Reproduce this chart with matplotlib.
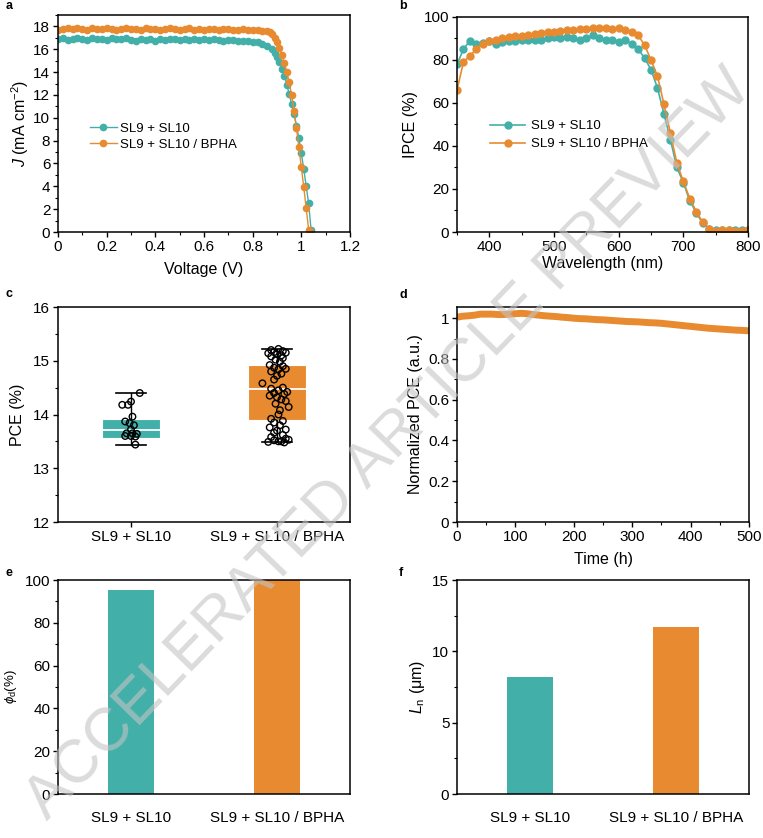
import numpy as np
import matplotlib
matplotlib.use("Agg")
import matplotlib.pyplot as plt
from matplotlib.ticker import MultipleLocator

plt.rcParams['font.family'] = ['Liberation Sans', 'DejaVu Sans']
plt.rcParams['mathtext.fontset'] = 'custom'
plt.rcParams['mathtext.rm'] = 'Liberation Sans'
plt.rcParams['mathtext.it'] = 'Liberation Sans:italic'

teal = '#43AFA9'
orange = '#E88B30'
names = ['SL9 + SL10', 'SL9 + SL10 / BPHA']

# ---- a: J-V
v_teal = [0.00, 0.02, 0.04, 0.06, 0.08, 0.10, 0.12, 0.14, 0.16, 0.18,
          0.20, 0.22, 0.24, 0.26, 0.28, 0.30, 0.32, 0.34, 0.36, 0.38,
          0.40, 0.42, 0.44, 0.46, 0.48, 0.50, 0.52, 0.54, 0.56, 0.58,
          0.60, 0.62, 0.64, 0.66, 0.68, 0.70, 0.72, 0.74, 0.76, 0.78,
          0.80, 0.82, 0.84, 0.86, 0.88, 0.89, 0.90, 0.91, 0.92, 0.93,
          0.94, 0.95, 0.96, 0.97, 0.98, 0.99, 1.00, 1.01, 1.02, 1.03, 1.04]
j_teal = [16.9, 17.0, 16.8, 16.9, 17.0, 16.9, 16.8, 17.0, 16.9, 16.9,
          16.8, 17.0, 16.9, 16.9, 17.0, 16.8, 16.7, 16.9, 16.8, 16.9,
          16.7, 16.9, 16.8, 16.9, 16.9, 16.8, 16.9, 16.8, 16.9, 16.8,
          16.9, 16.8, 16.9, 16.8, 16.7, 16.8, 16.8, 16.7, 16.7, 16.7,
          16.6, 16.6, 16.5, 16.3, 16.0, 15.7, 15.3, 14.9, 14.3, 13.7,
          12.9, 12.1, 11.2, 10.3, 9.3, 8.2, 6.9, 5.5, 4.0, 2.5, 0.2]
v_orange = [0.00, 0.02, 0.04, 0.06, 0.08, 0.10, 0.12, 0.14, 0.16, 0.18,
            0.20, 0.22, 0.24, 0.26, 0.28, 0.30, 0.32, 0.34, 0.36, 0.38,
            0.40, 0.42, 0.44, 0.46, 0.48, 0.50, 0.52, 0.54, 0.56, 0.58,
            0.60, 0.62, 0.64, 0.66, 0.68, 0.70, 0.72, 0.74, 0.76, 0.78,
            0.80, 0.82, 0.84, 0.86, 0.87, 0.88, 0.89, 0.90, 0.91, 0.92,
            0.93, 0.94, 0.95, 0.96, 0.97, 0.98, 0.99, 1.00, 1.01, 1.02, 1.03]
j_orange = [17.7, 17.8, 17.9, 17.8, 17.9, 17.8, 17.7, 17.9, 17.8, 17.8,
            17.9, 17.8, 17.7, 17.8, 17.9, 17.8, 17.8, 17.7, 17.9, 17.8,
            17.8, 17.7, 17.8, 17.9, 17.8, 17.7, 17.8, 17.9, 17.7, 17.8,
            17.7, 17.8, 17.8, 17.7, 17.8, 17.8, 17.7, 17.7, 17.8, 17.7,
            17.7, 17.7, 17.6, 17.6, 17.5, 17.3, 17.0, 16.6, 16.1, 15.5,
            14.8, 14.0, 13.1, 12.0, 10.6, 9.1, 7.4, 5.7, 3.9, 2.1, 0.2]

# ---- b: IPCE
wl = [350, 360, 370, 380, 390, 400, 410, 420, 430, 440, 450, 460, 470, 480,
      490, 500, 510, 520, 530, 540, 550, 560, 570, 580, 590, 600, 610, 620,
      630, 640, 650, 660, 670, 680, 690, 700, 710, 720, 730, 740, 750, 760,
      770, 780, 790, 800]
ipce_teal = [78, 85, 89, 87.5, 88, 89, 87.5, 88.5, 89, 89, 89.5, 89.5, 89.5,
             89.5, 90, 90.5, 90, 90.5, 90, 89.5, 90, 91.5, 90, 89.5, 89.5,
             88.5, 89.5, 87.5, 85, 81, 75.5, 67, 55, 43, 30, 23, 14.5, 9, 4,
             1.5, 1, 1, 1, 1, 1, 1]
ipce_orange = [66, 79, 82, 85, 87.5, 89, 89.5, 90, 90.5, 91, 91, 91.5, 92,
               92.5, 93, 93, 93.5, 94, 94, 94.5, 94.5, 95, 95, 95, 94.5, 95,
               94, 93, 91.5, 87, 80, 72.5, 59.5, 46, 32, 23.5, 15.5, 9.5, 4.5,
               1.5, 0.5, 1, 1, 0.5, 0.5, 1]

# ---- c: PCE statistics
box_q1 = [13.56, 13.89]
box_med = [13.72, 14.47]
box_q3 = [13.92, 14.93]
box_lo = [13.44, 13.48]
box_hi = [14.40, 15.21]
pce_teal = [14.40, 14.24, 14.18, 14.18, 13.96, 13.87, 13.84, 13.80, 13.72,
            13.65, 13.65, 13.64, 13.60, 13.60, 13.59, 13.44]
jit_teal = [0.06, 0.0, -0.06, -0.02, 0.01, -0.04, -0.01, 0.02, 0.0,
            -0.03, 0.01, 0.04, -0.04, 0.0, 0.03, 0.03]
pce_orange = [15.22, 15.20, 15.18, 15.16, 15.15, 15.14, 15.12, 15.10, 15.08,
              15.05, 15.02, 14.98, 14.92, 14.90, 14.87, 14.85, 14.84, 14.80,
              14.76, 14.72, 14.65, 14.58, 14.50, 14.48, 14.45, 14.42, 14.40,
              14.38, 14.35, 14.32, 14.28, 14.25, 14.20, 14.14, 14.08, 14.00,
              13.92, 13.88, 13.85, 13.80, 13.76, 13.72, 13.70, 13.66, 13.62,
              13.58, 13.55, 13.52, 13.50, 13.49, 13.48, 13.50, 13.53]
jit_orange = [0.01, -0.04, 0.04, -0.02, 0.06, -0.06, 0.0, 0.03, -0.04,
              0.04, -0.01, 0.02, -0.05, 0.04, -0.02, 0.06, 0.01, -0.04,
              0.03, 0.0, -0.02, -0.10, 0.04, -0.04, 0.01, 0.07, -0.02,
              0.05, -0.05, 0.0, 0.03, 0.06, -0.01, 0.08, 0.02, 0.01,
              -0.04, 0.04, -0.02, 0.02, -0.05, 0.06, 0.0, -0.02, 0.04,
              -0.04, 0.06, -0.02, 0.03, -0.06, 0.05, 0.01, 0.08]

# ---- d: stability
t_h = [0, 10, 20, 30, 40, 50, 60, 70, 80, 90, 100, 110, 120, 130, 140, 150,
       160, 170, 180, 190, 200, 210, 220, 230, 240, 250, 260, 270, 280, 290,
       300, 310, 320, 330, 340, 350, 360, 370, 380, 390, 400, 410, 420, 430,
       440, 450, 460, 470, 480, 490, 500]
norm_pce = [1.005, 1.01, 1.012, 1.015, 1.02, 1.02, 1.02, 1.018, 1.018, 1.02,
            1.022, 1.024, 1.022, 1.018, 1.015, 1.012, 1.01, 1.008, 1.005,
            1.003, 1.0, 0.998, 0.997, 0.995, 0.993, 0.992, 0.99, 0.988,
            0.986, 0.984, 0.983, 0.982, 0.98, 0.978, 0.977, 0.975, 0.972,
            0.969, 0.966, 0.963, 0.96, 0.957, 0.954, 0.951, 0.949, 0.947,
            0.945, 0.943, 0.941, 0.94, 0.938]

# ---- e, f: bars
phi_d = [95.3, 100.0]
l_n = [8.2, 11.7]

fig = plt.figure(figsize=(7.63, 8.38), dpi=100)
W, H = 763.0, 838.0


def make_ax(x0, x1, ytop, ybot):
    return fig.add_axes([x0 / W, 1 - ybot / H, (x1 - x0) / W, (ybot - ytop) / H])


def style(ax):
    ax.tick_params(direction='out', length=3.5, width=1, labelsize=11,
                   top=False, right=False, pad=2)
    ax.tick_params(which='minor', direction='out', length=2, width=0.8,
                   top=False, right=False)
    for s in ax.spines.values():
        s.set_linewidth(1.1)


ax_a = make_ax(58, 350, 15, 232)
ax_b = make_ax(457, 748, 17, 232)
ax_c = make_ax(58, 350, 307, 522)
ax_d = make_ax(457, 749, 307, 522)
ax_e = make_ax(58, 350, 580, 794)
ax_f = make_ax(457, 749, 580, 794)

# a
ax_a.plot(v_teal, j_teal, '-o', color=teal, ms=4.5, lw=1, label=names[0])
ax_a.plot(v_orange, j_orange, '-o', color=orange, ms=4.5, lw=1, label=names[1])
ax_a.set_xlim(0, 1.2)
ax_a.set_ylim(0, 19)
ax_a.xaxis.set_minor_locator(MultipleLocator(0.1))
ax_a.yaxis.set_major_locator(MultipleLocator(2))
ax_a.yaxis.set_minor_locator(MultipleLocator(1))
ax_a.set_xticks([0, 0.2, 0.4, 0.6, 0.8, 1.0, 1.2])
ax_a.set_xticklabels(['0', '0.2', '0.4', '0.6', '0.8', '1', '1.2'])
ax_a.set_xlabel('Voltage (V)', fontsize=11.5, labelpad=6)
ax_a.set_ylabel('$J$ (mA cm$^{-2}$)', fontsize=11.5, labelpad=2)
ax_a.legend(loc='center left', bbox_to_anchor=(0.11, 0.44), frameon=False,
            fontsize=9.5, handlelength=2.0, handletextpad=0.3,
            labelspacing=0.3, borderpad=0, borderaxespad=0)
style(ax_a)

# b
ax_b.plot(wl, ipce_teal, '-o', color=teal, ms=5, lw=1.2, label=names[0])
ax_b.plot(wl, ipce_orange, '-o', color=orange, ms=5, lw=1.2, label=names[1])
ax_b.set_xlim(350, 800)
ax_b.set_ylim(0, 100)
ax_b.xaxis.set_major_locator(MultipleLocator(100))
ax_b.xaxis.set_minor_locator(MultipleLocator(50))
ax_b.yaxis.set_major_locator(MultipleLocator(20))
ax_b.yaxis.set_minor_locator(MultipleLocator(10))
ax_b.set_xlabel('Wavelength (nm)', fontsize=11.5, labelpad=2)
ax_b.set_ylabel('IPCE (%)', fontsize=11.5, labelpad=4)
ax_b.legend(loc='center left', bbox_to_anchor=(0.115, 0.45), frameon=False,
            fontsize=9.5, handlelength=2.6, handletextpad=0.5,
            labelspacing=0.45, borderpad=0, borderaxespad=0)
style(ax_b)

# c
stats = []
for i in range(2):
    stats.append({'med': box_med[i], 'q1': box_q1[i], 'q3': box_q3[i],
                  'whislo': box_lo[i], 'whishi': box_hi[i], 'fliers': []})
bp = ax_c.bxp(stats, positions=[1, 2], widths=0.4, patch_artist=True,
              showfliers=False, capwidths=0.2,
              medianprops=dict(color='white', lw=1.3),
              whiskerprops=dict(color='black', lw=1),
              capprops=dict(color='black', lw=1.2))
for patch, c in zip(bp['boxes'], [teal, orange]):
    patch.set_facecolor(c)
    patch.set_edgecolor('white')
    patch.set_linewidth(0.8)
ax_c.scatter(1 + np.array(jit_teal), pce_teal, s=22, facecolors='none',
             edgecolors='black', linewidths=1, zorder=5)
ax_c.scatter(2 + np.array(jit_orange), pce_orange, s=22, facecolors='none',
             edgecolors='black', linewidths=1, zorder=5)
ax_c.set_xlim(0.5, 2.5)
ax_c.set_ylim(12, 16)
ax_c.set_xticks([1, 2])
ax_c.set_xticklabels(names)
ax_c.yaxis.set_major_locator(MultipleLocator(1))
ax_c.yaxis.set_minor_locator(MultipleLocator(0.5))
ax_c.set_ylabel('PCE (%)', fontsize=11.5, labelpad=6)
style(ax_c)

# d
ax_d.plot(t_h, norm_pce, color=orange, lw=5, solid_capstyle='butt')
ax_d.set_xlim(0, 500)
ax_d.set_ylim(0, 1.055)
ax_d.xaxis.set_major_locator(MultipleLocator(100))
ax_d.xaxis.set_minor_locator(MultipleLocator(50))
ax_d.set_yticks([0, 0.2, 0.4, 0.6, 0.8, 1.0])
ax_d.set_yticklabels(['0', '0.2', '0.4', '0.6', '0.8', '1'])
ax_d.yaxis.set_minor_locator(MultipleLocator(0.1))
ax_d.set_xlabel('Time (h)', fontsize=11.5, labelpad=6)
ax_d.set_ylabel('Normalized PCE (a.u.)', fontsize=11.5, labelpad=4)
style(ax_d)

# e
ax_e.bar([1, 2], phi_d, width=0.31, color=[teal, orange])
ax_e.set_xlim(0.5, 2.5)
ax_e.set_ylim(0, 100)
ax_e.set_xticks([1, 2])
ax_e.set_xticklabels(names)
ax_e.yaxis.set_major_locator(MultipleLocator(20))
ax_e.yaxis.set_minor_locator(MultipleLocator(10))
ax_e.set_ylabel('$\\phi_{\\mathrm{d}}$(%)', fontsize=9.5, labelpad=4)
style(ax_e)
ax_e.tick_params(axis='x', length=0, pad=12)

# f
ax_f.bar([1, 2], l_n, width=0.31, color=[teal, orange])
ax_f.set_xlim(0.5, 2.5)
ax_f.set_ylim(0, 15)
ax_f.set_xticks([1, 2])
ax_f.set_xticklabels(names)
ax_f.yaxis.set_major_locator(MultipleLocator(5))
ax_f.yaxis.set_minor_locator(MultipleLocator(2.5))
ax_f.set_ylabel('$L_{\\mathrm{n}}$ (\u03bcm)', fontsize=11.5, labelpad=4)
style(ax_f)
ax_f.tick_params(axis='x', length=0, pad=12)

# panel letters
for lab, (px, py) in zip('abcdef', [(6, 6), (399, 6), (6, 294), (399, 295),
                                    (6, 573), (399, 573)]):
    fig.text(px / W, 1 - py / H, lab, fontsize=9, fontweight='bold',
             ha='left', va='center')

# watermark
fig.text(0.511, 0.469, 'ACCELERATED ARTICLE PREVIEW', rotation=46,
         fontsize=44, color='#c4c4c4', alpha=0.6, ha='center', va='center',
         rotation_mode='anchor', zorder=10)

fig.savefig('out.png', dpi=100)
